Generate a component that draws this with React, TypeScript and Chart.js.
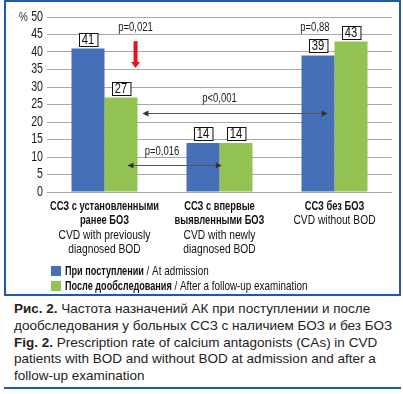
import React, { useEffect, useRef } from "react";
import { Chart, registerables } from "chart.js";

Chart.register(...registerables);

// ---- data ----
const categoriesRu: string[][] = [
  ["ССЗ с установленными", "ранее БОЗ"],
  ["ССЗ с впервые", "выявленными БОЗ"],
  ["ССЗ без БОЗ"],
];
const categoriesEn: string[][] = [
  ["CVD with previously", "diagnosed BOD"],
  ["CVD with newly", "diagnosed BOD"],
  ["CVD without BOD"],
];
const seriesRu = ["При поступлении", "После дообследования"];
const seriesEn = ["At admission", "After a follow-up examination"];
const atAdmission = [41, 14, 39];
const afterFollowUp = [27, 14, 43];
const yMin = 0;
const yMax = 50;
const yStep = 5;
const yUnit = "%";

// ---- annotations (in data units: x = category index, y = %) ----
const pLabels = ["p=0,021", "p=0,88", "p<0,001", "p=0,016"];
const pLabelX = [0.27, 1.83, 1.0, 0.5];
const pLabelY = [47.1, 47.1, 26.6, 11.7];
const bracketFrom = [0.33, 0.2];
const bracketTo = [1.94, 1.02];
const bracketY = [22.6, 7.7];
const redArrowX = 0.27;
const redArrowFrom = 43.1;
const redArrowTo = 35.4;

const BLUE = "#4570b8";
const GREEN = "#92c353";
const FRAME = "#1d5ba6";
const SANS = '"Liberation Sans", Arial, Helvetica, sans-serif';
const K_REG = 0.76;
const K_BOLD = 0.69;

function narrowText(ctx: CanvasRenderingContext2D, text: string, x: number, y: number, font: string, k: number) {
  ctx.font = font;
  const w = ctx.measureText(text).width;
  ctx.fillText(text, x, y, w * k);
  return w * k;
}

function arrowHead(ctx: CanvasRenderingContext2D, x: number, y: number, dir: number) {
  ctx.beginPath();
  ctx.moveTo(x, y);
  ctx.lineTo(x - dir * 6, y - 3);
  ctx.lineTo(x - dir * 6, y + 3);
  ctx.closePath();
  ctx.fill();
}

const annotationPlugin = {
  id: "annot",
  afterDatasetsDraw(chart: any) {
    const ctx: CanvasRenderingContext2D = chart.ctx;
    const xs = chart.scales.x;
    const ys = chart.scales.y;
    const area = chart.chartArea;
    ctx.save();
    ctx.textBaseline = "middle";

    // y tick labels
    ctx.fillStyle = "#1a1a1a";
    ys.ticks.forEach((t: any) => {
      const y = ys.getPixelForValue(t.value);
      ctx.textAlign = "right";
      narrowText(ctx, String(t.value), area.left - 4, y, `14px ${SANS}`, K_REG);
      if (t.value === yMax) {
        ctx.textAlign = "left";
        narrowText(ctx, yUnit, area.left - 28, y, `13px ${SANS}`, K_REG);
      }
    });

    // value boxes
    ctx.textAlign = "center";
    const boxFont = `14px ${SANS}`;
    chart.data.datasets.forEach((ds: any, di: number) => {
      const meta = chart.getDatasetMeta(di);
      meta.data.forEach((el: any, i: number) => {
        const txt = String(ds.data[i]);
        ctx.font = boxFont;
        const w = ctx.measureText(txt).width * 0.8 + 6;
        const h = 13;
        const bx = Math.round(el.x - w / 2) + 0.5;
        const by = Math.round(el.y - 3 - h) + 0.5;
        ctx.fillStyle = "#fff";
        ctx.fillRect(bx, by, w, h);
        ctx.strokeStyle = "#111";
        ctx.lineWidth = 1;
        ctx.strokeRect(bx, by, w, h);
        ctx.fillStyle = "#111";
        narrowText(ctx, txt, el.x, by + h / 2 + 0.5, boxFont, 0.8);
      });
    });

    // p labels
    ctx.fillStyle = "#222";
    pLabels.forEach((t, i) => {
      narrowText(ctx, t, xs.getPixelForValue(pLabelX[i]), ys.getPixelForValue(pLabelY[i]), `12.5px ${SANS}`, K_REG);
    });

    // double-headed arrows
    ctx.strokeStyle = "#555";
    ctx.fillStyle = "#333";
    ctx.lineWidth = 1.2;
    bracketY.forEach((yv, i) => {
      const y = Math.round(ys.getPixelForValue(yv)) + 0.5;
      const x1 = xs.getPixelForValue(bracketFrom[i]);
      const x2 = xs.getPixelForValue(bracketTo[i]);
      ctx.beginPath();
      ctx.moveTo(x1 + 3, y);
      ctx.lineTo(x2 - 3, y);
      ctx.stroke();
      arrowHead(ctx, x1, y, -1);
      arrowHead(ctx, x2, y, 1);
    });

    // red arrow
    const rx = xs.getPixelForValue(redArrowX);
    const ry1 = ys.getPixelForValue(redArrowFrom);
    const ry2 = ys.getPixelForValue(redArrowTo);
    ctx.fillStyle = "#e3151b";
    ctx.fillRect(rx - 2, ry1, 4, ry2 - ry1 - 5);
    ctx.beginPath();
    ctx.moveTo(rx - 4.5, ry2 - 6);
    ctx.lineTo(rx + 4.5, ry2 - 6);
    ctx.lineTo(rx, ry2);
    ctx.closePath();
    ctx.fill();

    // category labels
    ctx.fillStyle = "#111";
    categoriesRu.forEach((lines, i) => {
      const cx = xs.getPixelForValue(i);
      let y = area.bottom + 14.5;
      lines.forEach((l) => {
        narrowText(ctx, l, cx, y, `bold 13.5px ${SANS}`, K_BOLD);
        y += 14.2;
      });
      categoriesEn[i].forEach((l) => {
        narrowText(ctx, l, cx, y, `13.5px ${SANS}`, K_REG);
        y += 14.2;
      });
    });

    // legend
    const colors = [BLUE, GREEN];
    ctx.textAlign = "left";
    seriesRu.forEach((name, i) => {
      const cy = area.bottom + 79 + i * 15;
      ctx.fillStyle = colors[i];
      ctx.fillRect(area.left + 4, cy - 5, 10, 10);
      ctx.fillStyle = "#111";
      let x = area.left + 18;
      x += narrowText(ctx, name, x, cy, `bold 13px ${SANS}`, K_BOLD + 0.01);
      narrowText(ctx, ` / ${seriesEn[i]}`, x, cy, `13px ${SANS}`, K_REG);
    });

    ctx.restore();
  },
};

export default function App() {
  const ref = useRef<HTMLCanvasElement>(null);

  useEffect(() => {
    if (!ref.current) return;
    const chart = new Chart(ref.current, {
      type: "bar",
      data: {
        labels: categoriesEn.map((c) => c.join(" ")),
        datasets: [
          { label: seriesEn[0], data: atAdmission, backgroundColor: BLUE },
          { label: seriesEn[1], data: afterFollowUp, backgroundColor: GREEN },
        ],
      },
      options: {
        animation: false,
        responsive: false,
        devicePixelRatio: 1,
        layout: { padding: { left: 0, top: 17, right: 11, bottom: 0 } },
        datasets: { bar: { categoryPercentage: 0.574, barPercentage: 1 } },
        plugins: { legend: { display: false }, tooltip: { enabled: false } },
        scales: {
          x: {
            grid: { display: false },
            border: { display: false },
            ticks: { display: false },
            afterFit: (s: any) => {
              s.height = 108;
            },
          },
          y: {
            min: yMin,
            max: yMax,
            border: { display: false },
            grid: { color: "#a8a8a8", lineWidth: 1, drawTicks: false },
            ticks: { stepSize: yStep, display: false },
            afterFit: (s: any) => {
              s.width = 47;
            },
          },
        },
      },
      plugins: [annotationPlugin],
    } as any);
    return () => chart.destroy();
  }, []);

  return (
    <div
      style={{
        position: "fixed",
        left: 0,
        top: 0,
        width: 403,
        height: 394,
        background: "#fff",
        overflow: "hidden",
      }}
    >
      <div
        style={{
          position: "absolute",
          left: 4,
          top: 0,
          width: 397,
          height: 296,
          border: `2px solid ${FRAME}`,
          boxSizing: "border-box",
        }}
      />
      <canvas ref={ref} width={403} height={300} style={{ position: "absolute", left: 0, top: 0, width: 403, height: 300 }} />
      <div
        style={{
          position: "absolute",
          left: 14,
          top: 301,
          fontFamily: SANS,
          fontSize: 13.5,
          lineHeight: "16.8px",
          color: "#222",
          whiteSpace: "nowrap",
        }}
      >
        <b>Рис. 2.</b> Частота назначений АК при поступлении и после
        <br />
        дообследования у больных ССЗ с наличием БОЗ и без БОЗ
        <br />
        <b>Fig. 2.</b> Prescription rate of calcium antagonists (CAs) in CVD
        <br />
        patients with BOD and without BOD at admission and after a
        <br />
        follow-up examination
      </div>
      <div style={{ position: "absolute", left: 4, top: 387, width: 397, height: 2, background: FRAME }} />
    </div>
  );
}
